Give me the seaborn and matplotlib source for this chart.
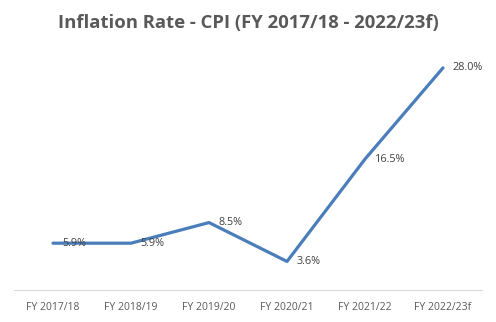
import matplotlib
matplotlib.use("Agg")
import matplotlib.pyplot as plt
import seaborn as sns
import pandas as pd

categories = ["FY 2017/18", "FY 2018/19", "FY 2019/20", "FY 2020/21", "FY 2021/22", "FY 2022/23f"]
inflation = [5.9, 5.9, 8.5, 3.6, 16.5, 28.0]
labels = ["5.9%", "5.9%", "8.5%", "3.6%", "16.5%", "28.0%"]
title = "Inflation Rate - CPI (FY 2017/18 - 2022/23f)"

sns.set_style("white")
plt.rcParams['font.family'] = ['Open Sans', 'DejaVu Sans']

df = pd.DataFrame({"cat": categories, "val": inflation})

fig = plt.figure(figsize=(4.96, 3.22), dpi=100)
ax = fig.add_axes([14/496, 32/322, 468/496, 238/322])
sns.lineplot(data=df, x="cat", y="val", ax=ax, color="#4A7EBB", linewidth=2.3, sort=False)
ax.set_xlim(-0.5, len(categories) - 0.5)
ax.set_ylim(0, 30)
ax.set_xlabel("")
ax.set_ylabel("")
ax.set_yticks([])
for s in ["left", "right", "top"]:
    ax.spines[s].set_visible(False)
ax.spines["bottom"].set_color("#D9D9D9")
ax.spines["bottom"].set_linewidth(0.8)
ax.tick_params(axis="x", length=0, pad=9, labelsize=7.5, labelcolor="#595959")

for i, (v, lab) in enumerate(zip(inflation, labels)):
    ax.annotate(lab, (i, v), xytext=(7, 0), textcoords="offset points",
                ha="left", va="center", fontsize=7.8, color="#404040")

fig.text(0.5, 1 - 23/322, title, ha="center", va="center", fontsize=13.3,
         fontweight="bold", color="#595959")

fig.savefig("out.png", dpi=100, facecolor="white")
